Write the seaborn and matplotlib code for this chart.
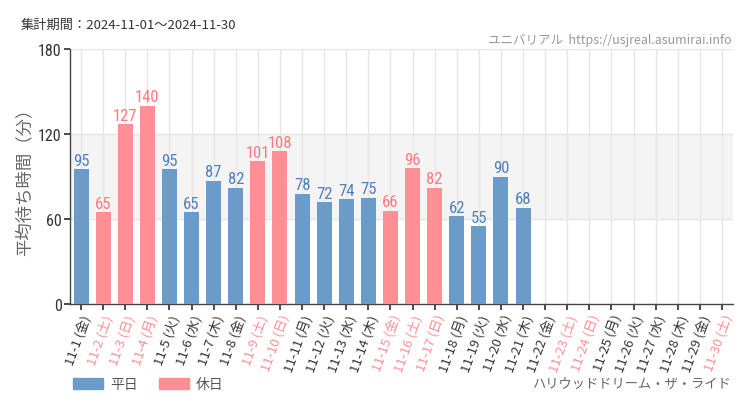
import numpy as np
import pandas as pd
import matplotlib
matplotlib.use("Agg")
import matplotlib.pyplot as plt
import seaborn as sns
from matplotlib.patches import Patch
from matplotlib import font_manager

days = list(range(1, 31))
weekdays = ["金", "土", "日", "月", "火", "水", "木"]
holidays = [2, 3, 4, 9, 10, 15, 16, 17, 23, 24, 30]
wait_days = list(range(1, 22))
wait_values = [95, 65, 127, 140, 95, 65, 87, 82, 101, 108, 78, 72, 74, 75, 66, 96, 82, 62, 55, 90, 68]

BLUE = "#6b9bc8"
PINK = "#ff8f94"
BLUE_TXT = "#4f80b8"
PINK_TXT = "#ff7a80"

# look for some condensed face, otherwise plain DejaVu
cond = [f for f in font_manager.fontManager.ttflist
        if (f.stretch in ("condensed", "semi-condensed", "extra-condensed", 500, 400) and
            ("Condensed" in f.fname or "Narrow" in f.fname)) and "Bold" not in f.fname
        and "Italic" not in f.fname and "Oblique" not in f.fname]
cond.sort(key=lambda f: ("Roboto" not in f.fname, "Open" not in f.fname, f.fname))
if cond:
    num_font = font_manager.FontProperties(fname=cond[0].fname)
    num_size = 12
else:
    num_font = font_manager.FontProperties(family="DejaVu Sans")
    num_size = 10

labels = [f"11-{d} ({weekdays[(d - 1) % 7]})" for d in days]
df = pd.DataFrame({
    "day": [labels[d - 1] for d in wait_days],
    "wait": wait_values,
    "kind": ["休日" if d in holidays else "平日" for d in wait_days],
})

sns.set_theme(style="white")
plt.rcParams['font.family'] = ['Noto Sans CJK JP', 'DejaVu Sans']

fig = plt.figure(figsize=(7.5, 4.1), dpi=100)
ax = fig.add_axes([0.0933, 0.256, 0.884, 0.622])

ax.axhspan(60, 120, color="#f4f4f4", zorder=0)
sns.barplot(data=df, x="day", y="wait", hue="kind", order=labels,
            hue_order=["平日", "休日"], palette={"平日": BLUE, "休日": PINK},
            dodge=False, width=0.68, legend=False, saturation=1, linewidth=0,
            ax=ax, zorder=3)

for cont, col in zip(ax.containers, [BLUE_TXT, PINK_TXT]):
    for t in ax.bar_label(cont, fmt="%d", padding=1, color=col):
        t.set_fontproperties(num_font)
        t.set_fontsize(num_size)

ax.set_ylim(0, 180)
ax.set_xlim(-0.5, 29.5)
ax.set_yticks([0, 60, 120, 180])
ax.set_yticklabels(["0", "60", "120", "180"])
for t in ax.get_yticklabels():
    t.set_fontproperties(num_font)
    t.set_fontsize(num_size - 0.5)
ax.tick_params(axis="y", length=4, color="#333333", labelcolor="#333333", pad=2, left=True)
ax.tick_params(axis="x", length=4, color="#333333", bottom=True, pad=2)
ax.set_xticks(range(30))
ax.set_xticklabels(labels, rotation=70, ha="right", rotation_mode="anchor", fontsize=9.5)
for i, t in enumerate(ax.get_xticklabels()):
    t.set_color(PINK if days[i] in holidays else "#333333")
for x in range(30):
    ax.axvline(x, color="#e6e6e6", lw=1, zorder=1)
for y in [60, 120, 180]:
    ax.axhline(y, color="#e6e6e6", lw=1, zorder=1)

ax.set_xlabel("")
ax.set_ylabel("平均待ち時間（分）", fontsize=12.5, color="#666666", labelpad=3)
for s in ["top", "right"]:
    ax.spines[s].set_visible(False)
for s in ["left", "bottom"]:
    ax.spines[s].set_color("#444444")
    ax.spines[s].set_linewidth(1)

fig.text(0.027, 0.937, "集計期間：2024-11-01～2024-11-30", fontsize=9.5, color="#333333", va="center")
fig.text(0.975, 0.902, "ユニバリアル  https://usjreal.asumirai.info", fontsize=9, color="#999999",
         ha="right", va="center")
fig.text(0.975, 0.063, "ハリウッドドリーム・ザ・ライド", fontsize=9.5, color="#666666", ha="right", va="center")

handles = [Patch(color=BLUE, label="平日"), Patch(color=PINK, label="休日")]
fig.legend(handles=handles, loc="center left", bbox_to_anchor=(0.08, 0.06), ncol=2, frameon=False,
           fontsize=10, handlelength=2.2, handleheight=0.9, columnspacing=1.5, handletextpad=0.5,
           labelcolor="#555555")

fig.savefig("out.png", dpi=100, facecolor="white")
